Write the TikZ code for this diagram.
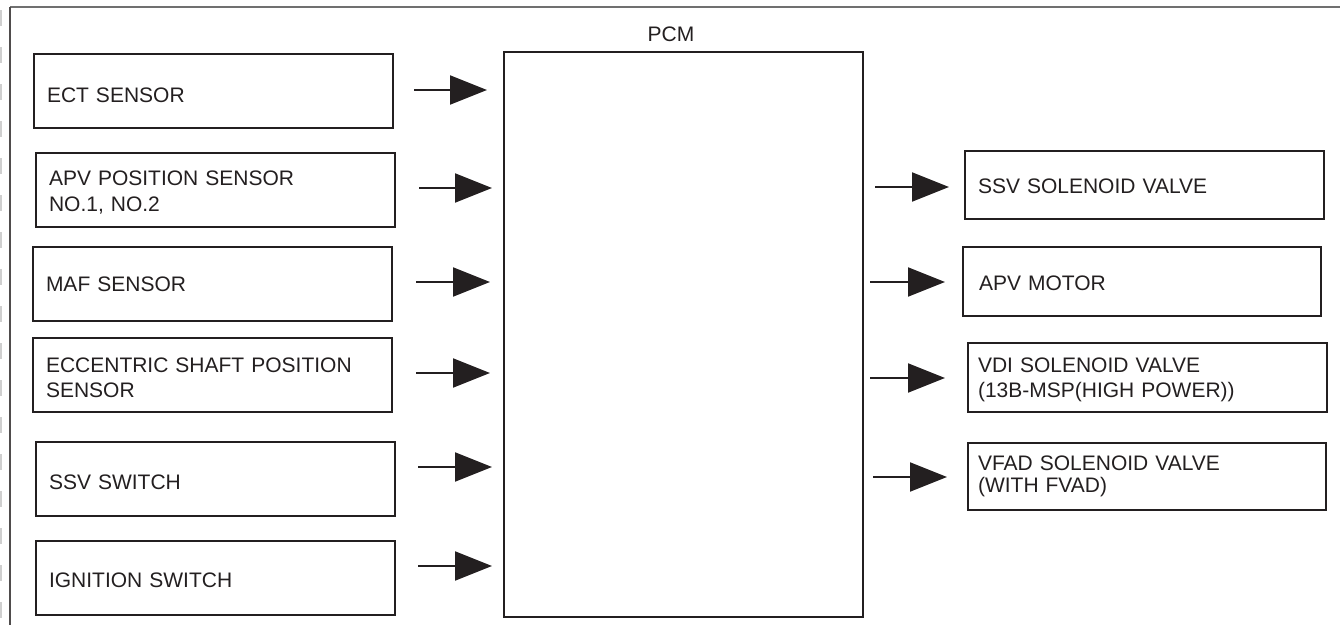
\documentclass[tikz,border=0pt]{standalone}
\usepackage{fontspec}
\setmainfont{Liberation Sans}
\usetikzlibrary{arrows.meta}
\definecolor{ink}{HTML}{231F20}
\definecolor{framegray}{HTML}{707070}
\definecolor{ticks}{HTML}{CFCFCF}
\begin{document}
\begin{tikzpicture}[x=1pt,y=-1pt,
  every node/.style={font=\fontsize{21}{25.5}\selectfont, text=ink},
  blk/.style={draw=ink, line width=2pt, inner xsep=13pt, inner ysep=0pt,
    minimum width=359pt, align=left, text width=333pt},
  lower/.style={text height=#1, text depth=0pt},
  arr/.style={draw=ink, line width=2pt, -{Triangle[length=37pt,width=29pt]}},
]
\useasboundingbox (0,0) rectangle (1340,625);
% scan border marks and frame
\draw[ticks, line width=2.5pt, dash pattern=on 16pt off 21pt] (1,10) -- (1,625);
\draw[framegray, line width=2pt] (1340,7) -- (10,7);
\draw[ink!80, line width=1.6pt] (10,7) -- (10,625);

% PCM
\node[draw=ink, line width=2pt, minimum width=359pt, minimum height=565pt] (pcm) at (683.5,334.5) {};
\node (pcmlabel) at (671,34.5) {PCM};

% inputs
\node[blk, minimum height=74pt, lower=23pt] (ect) at (213.5,91) {ECT SENSOR};
\node[blk, minimum height=74pt, yshift=0pt] (apv) at (215.5,190) {\rule{0pt}{20pt}APV POSITION SENSOR\\NO.1, NO.2};
\node[blk, minimum height=74pt] (maf) at (212.5,284) {MAF SENSOR};
\node[blk, minimum height=74pt] (ecc) at (212.5,375) {\rule{0pt}{20pt}ECCENTRIC SHAFT POSITION\\SENSOR};
\node[blk, minimum height=74pt, lower=21pt] (ssvsw) at (215.5,479) {SSV SWITCH};
\node[blk, minimum height=74pt, lower=19pt] (ign) at (215.5,578) {IGNITION SWITCH};

% outputs
\node[blk, minimum height=68pt, inner xsep=12pt, lower=17pt] (ssvsol) at (1144.5,185) {SSV SOLENOID VALVE};
\node[blk, minimum height=69pt, minimum width=358pt, inner xsep=16pt, text width=326pt, lower=17pt] (apvm) at (1142,281.5) {APV MOTOR};
\node[blk, minimum height=69pt, inner xsep=10pt, text width=339pt] (vdi) at (1147.5,377.5) {\rule{0pt}{19pt}VDI SOLENOID VALVE\\(13B-MSP(HIGH POWER))};
\node[blk, minimum height=67pt, minimum width=358pt, inner xsep=10pt, text width=338pt, font=\fontsize{21}{22}\selectfont] (vfad) at (1147,476.5) {VFAD SOLENOID VALVE\\(WITH FVAD)};

% connector end points
\coordinate (a1s) at (414,90);  \coordinate (a1e) at (487,90);
\coordinate (a2s) at (419,188); \coordinate (a2e) at (492,188);
\coordinate (a3s) at (416,282); \coordinate (a3e) at (490,282);
\coordinate (a4s) at (416,373); \coordinate (a4e) at (490,373);
\coordinate (a5s) at (418,467); \coordinate (a5e) at (492,467);
\coordinate (a6s) at (418,566); \coordinate (a6e) at (492,566);
\coordinate (b1s) at (875,187); \coordinate (b1e) at (949,187);
\coordinate (b2s) at (870,282); \coordinate (b2e) at (945,282);
\coordinate (b3s) at (870,378); \coordinate (b3e) at (945,378);
\coordinate (b4s) at (873,477); \coordinate (b4e) at (947,477);

\draw[arr] (a1s) -- (a1e);
\draw[arr] (a2s) -- (a2e);
\draw[arr] (a3s) -- (a3e);
\draw[arr] (a4s) -- (a4e);
\draw[arr] (a5s) -- (a5e);
\draw[arr] (a6s) -- (a6e);
\draw[arr] (b1s) -- (b1e);
\draw[arr] (b2s) -- (b2e);
\draw[arr] (b3s) -- (b3e);
\draw[arr] (b4s) -- (b4e);
\end{tikzpicture}
\end{document}
